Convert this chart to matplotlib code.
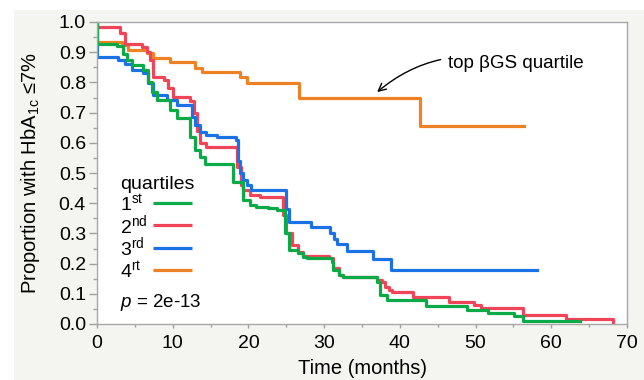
import matplotlib
matplotlib.use("Agg")
import matplotlib.pyplot as plt
from matplotlib.patches import Rectangle

plt.rcParams['font.family'] = ['Liberation Sans', 'DejaVu Sans']
plt.rcParams['mathtext.fontset'] = 'custom'
plt.rcParams['mathtext.rm'] = 'Liberation Sans'
plt.rcParams['mathtext.it'] = 'Liberation Sans:italic'

# Kaplan-Meier style step data (time in months, proportion with HbA1c <= 7%)
t_q1 = [0, 0, 2.6, 3.4, 3.9, 4.6, 6.1, 6.8, 7.2, 7.9, 9.7, 10.5, 12.3, 13.0, 13.6,
        14.2, 18.0, 19.3, 20.2, 21.0, 22.6, 23.8, 24.8, 25.3, 26.5, 27.2, 27.8,
        31.0, 31.2, 31.9, 32.5, 37.0, 37.4, 38.3, 43.5, 48.9, 51.6, 55.1, 56.2, 63.8]
p_q1 = [1.0, 0.927, 0.92, 0.895, 0.874, 0.856, 0.841, 0.80, 0.769, 0.742, 0.709,
        0.682, 0.62, 0.576, 0.554, 0.53, 0.47, 0.41, 0.394, 0.387, 0.384, 0.377,
        0.30, 0.245, 0.234, 0.223, 0.218, 0.206, 0.179, 0.162, 0.155, 0.14, 0.096,
        0.081, 0.06, 0.046, 0.035, 0.026, 0.011, 0.011]

t_q2 = [0, 0, 3.1, 3.7, 5.9, 6.6, 7.0, 7.4, 8.8, 9.4, 10.1, 12.3, 12.8, 13.2, 13.6,
        14.4, 18.5, 19.0, 19.3, 20.2, 21.5, 24.6, 25.0, 25.8, 26.5, 27.2, 30.6,
        31.2, 31.9, 32.5, 37.0, 37.6, 38.0, 38.6, 39.0, 41.8, 46.5, 49.8, 50.7,
        56.2, 61.9, 68.1]
p_q2 = [1.0, 0.982, 0.963, 0.926, 0.918, 0.90, 0.874, 0.819, 0.808, 0.78, 0.753,
        0.74, 0.70, 0.64, 0.60, 0.587, 0.52, 0.46, 0.444, 0.427, 0.42, 0.36, 0.30,
        0.262, 0.24, 0.226, 0.218, 0.185, 0.162, 0.155, 0.146, 0.14, 0.124, 0.113,
        0.105, 0.09, 0.074, 0.063, 0.054, 0.03, 0.017, 0.004]

t_q3 = [0, 0, 2.8, 3.7, 4.6, 6.1, 6.8, 7.4, 9.3, 10.5, 12.5, 13.0, 13.6, 14.4, 15.9,
        18.3, 18.6, 18.9, 19.3, 19.8, 20.4, 24.9, 25.3, 28.2, 30.8, 31.3, 31.7,
        33.0, 36.5, 38.8, 58.1]
p_q3 = [1.0, 0.883, 0.873, 0.86, 0.841, 0.83, 0.797, 0.758, 0.742, 0.725, 0.686,
        0.66, 0.637, 0.626, 0.618, 0.61, 0.54, 0.50, 0.477, 0.46, 0.444, 0.38,
        0.339, 0.32, 0.30, 0.28, 0.265, 0.242, 0.214, 0.179, 0.179]

t_q4 = [0, 0, 3.3, 4.1, 6.6, 7.4, 9.7, 13.0, 13.9, 18.9, 19.8, 26.7, 42.7, 56.4]
p_q4 = [1.0, 0.935, 0.924, 0.907, 0.897, 0.88, 0.866, 0.849, 0.834, 0.817, 0.797,
        0.749, 0.656, 0.656]

labels = ['1$^{\\mathrm{st}}$', '2$^{\\mathrm{nd}}$', '3$^{\\mathrm{rd}}$', '4$^{\\mathrm{rt}}$']
colors = ['#0aaa46', '#f04459', '#1a72e6', '#ee8124']


def draw_plot():
    fig = plt.figure(figsize=(6.44, 3.80), dpi=100)
    # light grey panel behind the chart
    fig.patches.append(Rectangle((14 / 644, 0), 1, 1 - 10 / 380,
                                 transform=fig.transFigure, facecolor='#f4f4f0',
                                 edgecolor='none', zorder=-10))
    ax = fig.add_axes([97 / 644, 1 - 324 / 380, 530 / 644, 302 / 380])
    ax.set_facecolor('white')

    lw = 2.3
    ax.step(t_q4, p_q4, where='post', color=colors[3], lw=lw)
    ax.step(t_q2, p_q2, where='post', color=colors[1], lw=lw)
    ax.step(t_q3, p_q3, where='post', color=colors[2], lw=lw)
    ax.step(t_q1, p_q1, where='post', color=colors[0], lw=lw)

    ax.set_xlim(0, 70)
    ax.set_ylim(0, 1.0)
    ax.set_xticks(range(0, 71, 10))
    ax.set_xticks(range(5, 70, 10), minor=True)
    ax.set_yticks([i / 10 for i in range(11)])
    ax.set_yticklabels([f'{i / 10:.1f}' for i in range(11)])
    ax.set_yticks([i / 20 for i in range(1, 20, 2)], minor=True)

    for s in ax.spines.values():
        s.set_color('#a8a8a8')
        s.set_linewidth(1.0)
    ax.tick_params(axis='both', which='both', colors='#a0a0a0', labelcolor='black',
                   labelsize=14, width=1.0)
    ax.tick_params(axis='y', which='major', length=6, pad=2)
    ax.tick_params(axis='y', which='minor', length=3)
    ax.tick_params(axis='x', which='major', length=3.2, pad=5)
    ax.tick_params(axis='x', which='minor', length=2)

    ax.set_xlabel('Time (months)', fontsize=14.5, labelpad=4.5)
    ax.set_ylabel('Proportion with HbA$_{\\mathrm{1c}}$ \u22647%', fontsize=14.5, labelpad=12)

    # legend drawn by hand: labels left, line keys right
    ax.text(0.043, 0.448, 'quartiles', transform=ax.transAxes, fontsize=14,
            ha='left', va='baseline')
    for i, (lab, c) in enumerate(zip(labels, colors)):
        yb = 0.376 - i * 0.0745
        ax.text(0.043, yb, lab, transform=ax.transAxes, fontsize=14,
                ha='left', va='baseline')
        ax.plot([0.106, 0.179], [yb + 0.025, yb + 0.025], transform=ax.transAxes,
                color=c, lw=lw, solid_capstyle='butt')

    ax.text(0.043, 0.057, '$p$ = 2e-13', transform=ax.transAxes, fontsize=13.5,
            va='baseline', ha='left')

    ax.annotate('top \u03b2GS quartile', xy=(37.0, 0.768), xytext=(46.3, 0.862),
                fontsize=13.5, va='center', ha='left',
                arrowprops=dict(arrowstyle='->', color='black', lw=1,
                                connectionstyle='arc3,rad=0.27', shrinkA=3, shrinkB=0))

    fig.savefig('out.png', dpi=100)


def main():
    draw_plot()


if __name__ == '__main__':
    main()
